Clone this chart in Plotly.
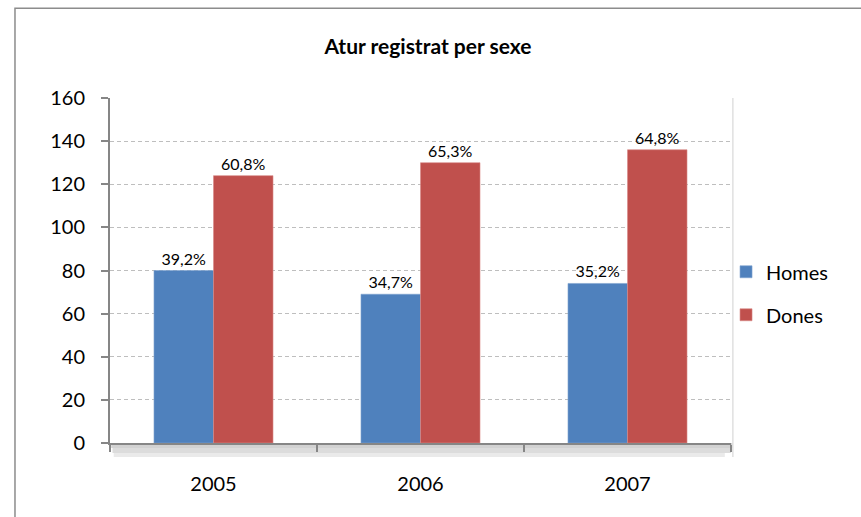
import plotly.graph_objects as go

years = ["2005", "2006", "2007"]
homes = [80, 69, 74]
dones = [124, 130, 136]
homes_pct = ["39,2%", "34,7%", "35,2%"]
dones_pct = ["60,8%", "65,3%", "64,8%"]
y_ticks = [0, 20, 40, 60, 80, 100, 120, 140, 160]

FONT = "Lato, 'Open Sans', sans-serif"

fig = go.Figure()
fig.add_trace(go.Bar(
    name="Homes", x=years, y=homes, text=homes_pct, textposition="outside",
    marker=dict(color="#4F81BD", line=dict(color="#7FA3D0", width=0.6)),
    textfont=dict(size=16, color="#000000", family=FONT),
    cliponaxis=False, legendgroup="h",
))
fig.add_trace(go.Bar(
    name="Dones", x=years, y=dones, text=dones_pct, textposition="outside",
    marker=dict(color="#C0504D", line=dict(color="#D88A88", width=0.6)),
    textfont=dict(size=16, color="#000000", family=FONT),
    cliponaxis=False, legendgroup="d",
))

px = 1 / 345.0
shapes = [
    # outer chart border
    dict(type="rect", xref="paper", yref="paper", x0=-0.153, y0=1.26, x1=1.4, y1=-0.4,
         line=dict(color="#8C8C8C", width=1.5), fillcolor="rgba(0,0,0,0)", layer="below"),
    # floor shadow
    dict(type="rect", xref="paper", yref="paper", x0=0.002, x1=1.003, y0=-5 * px, y1=0,
         line=dict(width=0), fillcolor="#D2D2D2", layer="below"),
    dict(type="rect", xref="paper", yref="paper", x0=0.004, x1=1.0, y0=-10 * px, y1=-5 * px,
         line=dict(width=0), fillcolor="#DCDCDC", layer="below"),
    dict(type="rect", xref="paper", yref="paper", x0=0.006, x1=0.99, y0=-14 * px, y1=-10 * px,
         line=dict(width=0), fillcolor="#EAEAEA", layer="below"),
    # faint right edge line
    dict(type="line", xref="paper", yref="paper", x0=1.003, x1=1.003, y0=-14 * px, y1=1.0,
         line=dict(color="#E0E0E0", width=1.5), layer="below"),
]

fig.update_layout(
    width=861, height=517,
    margin=dict(l=110, r=130, t=98, b=74),
    paper_bgcolor="white", plot_bgcolor="white",
    font=dict(family=FONT, size=20, color="#000000"),
    title=dict(text="<b>Atur registrat per sexe</b>", x=0.497, xref="container", xanchor="center",
               y=1 - 47 / 517, yref="container", yanchor="middle",
               font=dict(family=FONT, size=21, color="#000000")),
    barmode="group", bargap=0.425, bargroupgap=0,
    showlegend=True,
    legend=dict(x=0.992, xanchor="left", y=0.434, yanchor="middle",
                font=dict(family=FONT, size=20), tracegroupgap=14,
                traceorder="grouped", itemwidth=30, bgcolor="rgba(0,0,0,0)"),
    shapes=shapes,
    xaxis=dict(
        type="category", showline=True, linecolor="#868686", linewidth=2,
        ticks="outside", tickson="boundaries", ticklen=7, tickcolor="#868686", tickwidth=2,
        showgrid=False, ticklabelstandoff=22, tickfont=dict(size=20, family=FONT),
    ),
    yaxis=dict(
        range=[0, 160], tickvals=y_ticks, showline=True, linecolor="#868686", linewidth=2,
        ticks="outside", ticklen=7, tickcolor="#868686", tickwidth=2,
        showgrid=True, gridcolor="#BEBEBE", griddash="4px,3px", gridwidth=1,
        zeroline=False, ticklabelstandoff=12, tickfont=dict(size=20, family=FONT),
    ),
)

fig.write_html("out.html", config={"displayModeBar": False},
               post_script="document.body.style.margin='0';")
